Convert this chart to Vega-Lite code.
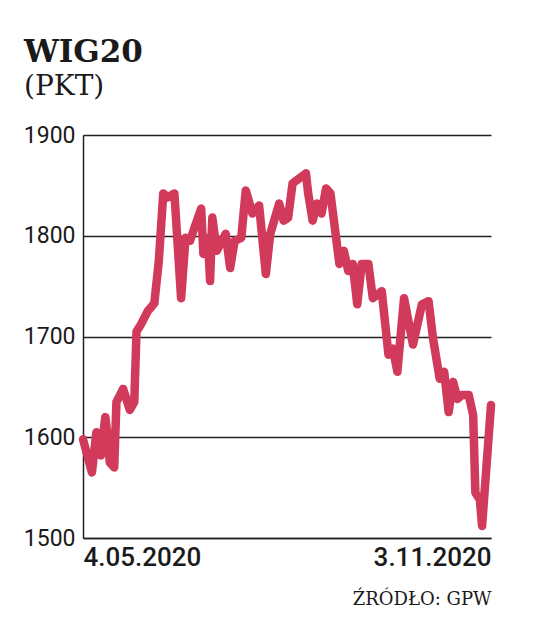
{
  "$schema": "https://vega.github.io/schema/vega-lite/v6.json",
  "autosize": {"type": "none"},
  "padding": {"left": 83, "top": 135, "right": 45, "bottom": 83},
  "width": 408,
  "height": 403,
  "background": "white",
  "config": {"view": {"stroke": null}},
  "title": {
    "text": "WIG20",
    "subtitle": "(PKT)",
    "anchor": "start",
    "frame": "group",
    "dx": -59,
    "offset": 22,
    "font": "DejaVu Serif",
    "fontSize": 31,
    "fontWeight": "bold",
    "color": "#1a1a1a",
    "subtitleFont": "DejaVu Serif",
    "subtitleFontSize": 28,
    "subtitleColor": "#1a1a1a",
    "subtitlePadding": 4
  },
  "data": {
    "values": [
      {"date": "2020-05-04", "value": 1598},
      {"date": "2020-05-08", "value": 1565},
      {"date": "2020-05-10", "value": 1605},
      {"date": "2020-05-12", "value": 1582},
      {"date": "2020-05-14", "value": 1620},
      {"date": "2020-05-15", "value": 1602},
      {"date": "2020-05-16", "value": 1575},
      {"date": "2020-05-18", "value": 1570},
      {"date": "2020-05-19", "value": 1635},
      {"date": "2020-05-22", "value": 1648},
      {"date": "2020-05-25", "value": 1627},
      {"date": "2020-05-27", "value": 1635},
      {"date": "2020-05-28", "value": 1705},
      {"date": "2020-05-30", "value": 1712},
      {"date": "2020-06-02", "value": 1725},
      {"date": "2020-06-05", "value": 1733},
      {"date": "2020-06-07", "value": 1775},
      {"date": "2020-06-09", "value": 1842},
      {"date": "2020-06-11", "value": 1838},
      {"date": "2020-06-14", "value": 1842},
      {"date": "2020-06-17", "value": 1738},
      {"date": "2020-06-19", "value": 1798},
      {"date": "2020-06-21", "value": 1795},
      {"date": "2020-06-23", "value": 1808},
      {"date": "2020-06-26", "value": 1827},
      {"date": "2020-06-27", "value": 1782},
      {"date": "2020-06-29", "value": 1798},
      {"date": "2020-06-30", "value": 1755},
      {"date": "2020-07-01", "value": 1818},
      {"date": "2020-07-03", "value": 1785},
      {"date": "2020-07-07", "value": 1802},
      {"date": "2020-07-09", "value": 1768},
      {"date": "2020-07-11", "value": 1795},
      {"date": "2020-07-14", "value": 1798},
      {"date": "2020-07-16", "value": 1845},
      {"date": "2020-07-19", "value": 1822},
      {"date": "2020-07-22", "value": 1830},
      {"date": "2020-07-25", "value": 1762},
      {"date": "2020-07-27", "value": 1802},
      {"date": "2020-07-31", "value": 1832},
      {"date": "2020-08-02", "value": 1815},
      {"date": "2020-08-04", "value": 1818},
      {"date": "2020-08-06", "value": 1852},
      {"date": "2020-08-09", "value": 1857},
      {"date": "2020-08-12", "value": 1862},
      {"date": "2020-08-13", "value": 1842},
      {"date": "2020-08-15", "value": 1815},
      {"date": "2020-08-17", "value": 1832},
      {"date": "2020-08-19", "value": 1822},
      {"date": "2020-08-21", "value": 1847},
      {"date": "2020-08-23", "value": 1842},
      {"date": "2020-08-27", "value": 1772},
      {"date": "2020-08-29", "value": 1785},
      {"date": "2020-08-31", "value": 1765},
      {"date": "2020-09-02", "value": 1772},
      {"date": "2020-09-04", "value": 1732},
      {"date": "2020-09-06", "value": 1772},
      {"date": "2020-09-09", "value": 1772},
      {"date": "2020-09-11", "value": 1738},
      {"date": "2020-09-15", "value": 1745},
      {"date": "2020-09-18", "value": 1682},
      {"date": "2020-09-20", "value": 1688},
      {"date": "2020-09-22", "value": 1665},
      {"date": "2020-09-25", "value": 1738},
      {"date": "2020-09-29", "value": 1692},
      {"date": "2020-10-03", "value": 1732},
      {"date": "2020-10-06", "value": 1735},
      {"date": "2020-10-08", "value": 1698},
      {"date": "2020-10-11", "value": 1658},
      {"date": "2020-10-13", "value": 1665},
      {"date": "2020-10-15", "value": 1625},
      {"date": "2020-10-17", "value": 1655},
      {"date": "2020-10-19", "value": 1638},
      {"date": "2020-10-21", "value": 1642},
      {"date": "2020-10-24", "value": 1642},
      {"date": "2020-10-26", "value": 1622},
      {"date": "2020-10-27", "value": 1545},
      {"date": "2020-10-29", "value": 1538},
      {"date": "2020-10-30", "value": 1512},
      {"date": "2020-11-03", "value": 1632}
    ],
    "format": {"parse": {"date": "date:'%Y-%m-%d'"}}
  },
  "mark": {
    "type": "line",
    "color": "#d13a5b",
    "strokeWidth": 8.5,
    "strokeCap": "round",
    "strokeJoin": "round"
  },
  "encoding": {
    "x": {
      "field": "date",
      "type": "temporal",
      "scale": {
        "domain": [
          {"year": 2020, "month": 5, "date": 4},
          {"year": 2020, "month": 11, "date": 3}
        ],
        "nice": false
      },
      "axis": {
        "values": [
          {"year": 2020, "month": 5, "date": 4},
          {"year": 2020, "month": 11, "date": 3}
        ],
        "format": "%-d.%m.%Y",
        "labelFlush": true,
        "labelFont": "Roboto",
        "labelFontSize": 26,
        "labelFontWeight": 500,
        "labelColor": "#1a1a1a",
        "labelPadding": 6,
        "ticks": false,
        "grid": false,
        "domainColor": "#222",
        "domainWidth": 1.5,
        "title": "ŹRÓDŁO: GPW",
        "titleAnchor": "end",
        "titleFont": "DejaVu Serif",
        "titleFontSize": 18,
        "titleFontWeight": "normal",
        "titleColor": "#1a1a1a",
        "titlePadding": 20
      }
    },
    "y": {
      "field": "value",
      "type": "quantitative",
      "scale": {"domain": [1500, 1900], "nice": false, "zero": false},
      "axis": {
        "values": [1500, 1600, 1700, 1800, 1900],
        "format": "d",
        "title": null,
        "ticks": false,
        "grid": true,
        "gridColor": "#222",
        "gridWidth": 1.5,
        "domainColor": "#222",
        "domainWidth": 1.5,
        "labelFont": "Roboto",
        "labelFontSize": 23,
        "labelColor": "#1a1a1a",
        "labelPadding": 8
      }
    }
  }
}
